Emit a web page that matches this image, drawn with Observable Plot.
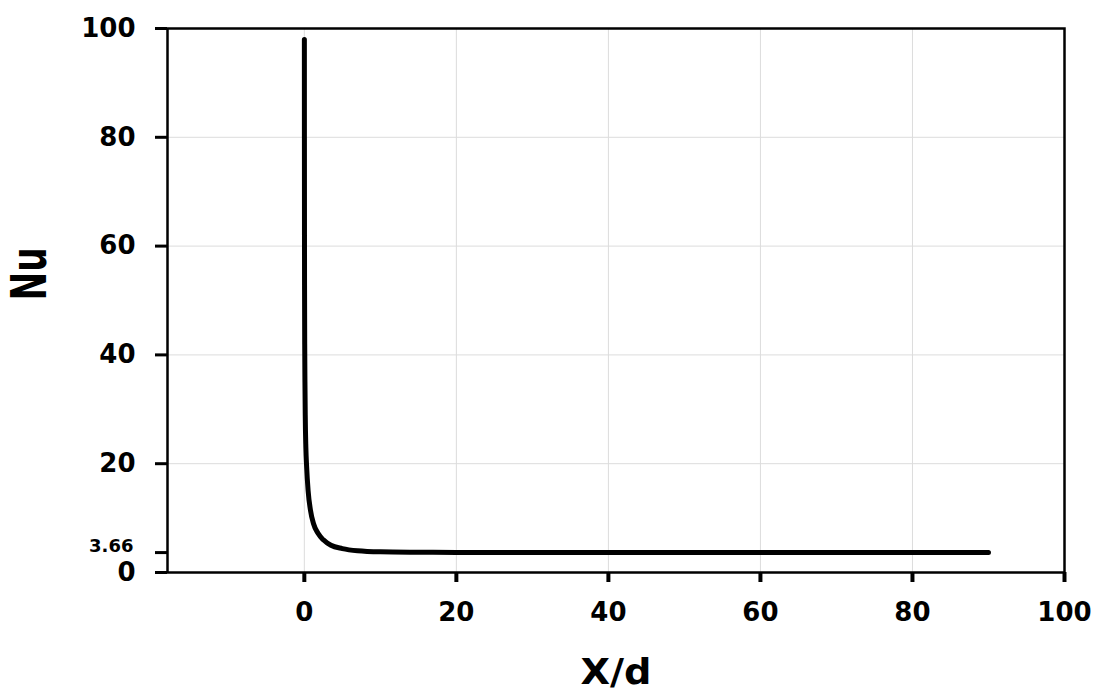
<!DOCTYPE html>
<html>
<head>
<meta charset="utf-8">
<script src="https://cdn.jsdelivr.net/npm/d3@7"></script>
<script src="https://cdn.jsdelivr.net/npm/@observablehq/plot@0.6"></script>
<style>
  html, body { margin: 0; padding: 0; background: #fff; }
  svg { display: block; }
</style>
</head>
<body>
<div id="chart"></div>
<script>
// Local Nusselt number vs dimensionless axial distance
const xd = [0.005, 0.01, 0.02, 0.03, 0.05, 0.08, 0.12, 0.2, 0.3, 0.5, 0.8, 1.2, 1.8, 2.5, 3.5, 5, 7, 10, 15, 20, 30, 40, 60, 90];
const nu = [98, 80, 62, 52, 42, 35, 29, 23, 19.5, 15, 11.5, 9, 7.2, 6, 5, 4.4, 4, 3.8, 3.72, 3.68, 3.66, 3.66, 3.66, 3.66];
const xTicks = [0, 20, 40, 60, 80, 100];
const yTicks = [0, 20, 40, 60, 80, 100];
const xGrid = [0, 20, 40, 60, 80];
const yGrid = [20, 40, 60, 80];
const nuLimit = [3.66];
const xLabel = "X/d";
const yLabel = "Nu";

const data = xd.map((x, i) => ({x, y: nu[i]}));
const font = "'DejaVu Sans', 'Liberation Sans', Arial, sans-serif";

const chart = Plot.plot({
  width: 1094,
  height: 691,
  marginLeft: 167,
  marginRight: 30,
  marginTop: 28,
  marginBottom: 119,
  style: {fontFamily: font, background: "#fff", overflow: "visible"},
  x: {domain: [-18, 100]},
  y: {domain: [0, 100]},
  marks: [
    Plot.gridX(xGrid, {stroke: "#dcdcdc", strokeOpacity: 1, strokeWidth: 1}),
    Plot.gridY(yGrid, {stroke: "#dcdcdc", strokeOpacity: 1, strokeWidth: 1}),
    Plot.axisX(xTicks, {tickSize: 10, strokeWidth: 4, tickPadding: 20, fontSize: 26, fontWeight: "bold", fill: "black", label: null}),
    Plot.axisY(yTicks, {tickSize: 12, strokeWidth: 3, tickPadding: 20, fontSize: 26, fontWeight: "bold", fill: "black", label: null}),
    Plot.axisY(nuLimit, {tickSize: 12, strokeWidth: 3, tickPadding: 22, label: null, text: null}),
    Plot.text(nuLimit, {y: d => d, frameAnchor: "left", dx: -34, dy: -6, textAnchor: "end", text: d => d.toFixed(2), fontSize: 18, fontWeight: "bold", fill: "black"}),
    Plot.line(data, {x: "x", y: "y", stroke: "black", strokeWidth: 5, strokeLinecap: "round", strokeLinejoin: "round", curve: "monotone-x"}),
    Plot.frame({stroke: "black", strokeWidth: 2.5}),
    Plot.text([xLabel], {frameAnchor: "bottom", dy: 100, lineAnchor: "middle", fontSize: 35, fontWeight: "bold", fill: "black", className: "xlab"}),
    Plot.text([yLabel], {frameAnchor: "left", dx: -138, rotate: -90, fontSize: 50, fontWeight: "bold", fill: "black", className: "ylab"})
  ]
});
document.getElementById("chart").append(chart);
// match the reference's stretched glyph proportions
d3.select(chart).selectAll(".ylab text").attr("textLength", 53).attr("lengthAdjust", "spacingAndGlyphs");
d3.select(chart).selectAll(".xlab text").attr("textLength", 71).attr("lengthAdjust", "spacingAndGlyphs");
</script>
</body>
</html>
